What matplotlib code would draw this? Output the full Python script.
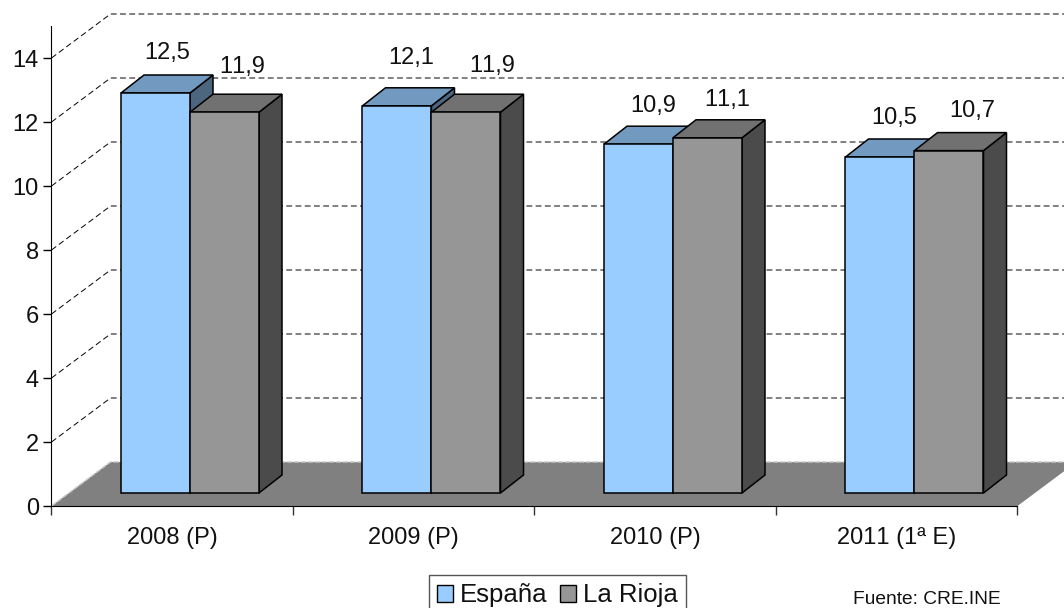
import matplotlib
matplotlib.use('Agg')
import matplotlib.pyplot as plt
from matplotlib.patches import Patch
from matplotlib.transforms import Affine2D

plt.rcParams['font.family'] = ['Liberation Sans', 'DejaVu Sans']
plt.rcParams['text.kerning_factor'] = 20

years = ['2008 (P)', '2009 (P)', '2010 (P)', '2011 (1ª E)']
espana = [12.5, 12.1, 10.9, 10.5]
rioja = [11.9, 11.9, 11.1, 10.7]
espana_labels = ['12,5', '12,1', '10,9', '10,5']
rioja_labels = ['11,9', '11,9', '11,1', '10,7']
y_ticks = [0, 2, 4, 6, 8, 10, 12, 14]

# one category is 241.5 px wide, one y unit is 32 px
PX_X = 1 / 241.5
PX_Y = 1 / 32
wall_dx, wall_dy = 59 * PX_X, 44 * PX_Y
bar_dx, bar_dy = 23 * PX_X, 18 * PX_Y
bar_w = 69 * PX_X
bar_x0 = 69.5 * PX_X
bar_base = 13 * PX_Y

fig = plt.figure(figsize=(10.64, 6.08), dpi=100)
ax = fig.add_axes([0, 0, 1, 1])
ax.set_xlim(-51.5 * PX_X, 1012.5 * PX_X)
ax.set_ylim(-102 * PX_Y, 506 * PX_Y)
ax.patch.set_alpha(0)

n = len(years)

# floor
ax.fill([0, n, n + wall_dx, wall_dx], [0, 0, wall_dy, wall_dy], color='#808080', lw=0, zorder=1)
ax.plot([0, wall_dx, n + wall_dx], [0, wall_dy, wall_dy], color='#c8c8c8', lw=1, ls=(0, (4, 1)), zorder=1.5)

# dashed walls
for v in y_ticks[1:]:
    ax.plot([0, wall_dx, n + wall_dx], [v, v + wall_dy, v + wall_dy],
            color='black', lw=0.7, ls=(0, (6, 3.5)), zorder=1.5)


def bar3d(x, v, front, top, side):
    y0 = bar_base
    y1 = bar_base + v
    ax.fill([x + bar_w, x + bar_w + bar_dx, x + bar_w + bar_dx, x + bar_w],
            [y0, y0 + bar_dy, y1 + bar_dy, y1], facecolor=side, edgecolor='black', lw=1.1, zorder=2)
    ax.fill([x, x + bar_dx, x + bar_w + bar_dx, x + bar_w],
            [y1, y1 + bar_dy, y1 + bar_dy, y1], facecolor=top, edgecolor='black', lw=1.1, zorder=2)
    ax.bar(x, v, width=bar_w, bottom=y0, align='edge', color=front, edgecolor='black', lw=1.1, zorder=2)


for i in range(n):
    bar3d(i + bar_x0, espana[i], '#99CCFF', '#7299BF', '#4D6680')
    bar3d(i + bar_x0 + bar_w, rioja[i], '#969696', '#717171', '#4B4B4B')

# value labels, offsets in px from front top left of each bar
esp_off = [(46, 40), (49, 48), (49, 38), (49, 39)]
rio_off = [(52, 45), (61, 46), (54, 38), (58, 40)]
for i in range(n):
    ax.annotate(espana_labels[i], (i + bar_x0, bar_base + espana[i]),
                xytext=(esp_off[i][0] * 0.72, esp_off[i][1] * 0.72), textcoords='offset points',
                ha='center', va='center', fontsize=17, color='#111111', zorder=3)
    ax.annotate(rioja_labels[i], (i + bar_x0 + bar_w, bar_base + rioja[i]),
                xytext=(rio_off[i][0] * 0.72, rio_off[i][1] * 0.72), textcoords='offset points',
                ha='center', va='center', fontsize=17, color='#111111', zorder=3)

# axes
for s in ['top', 'right']:
    ax.spines[s].set_visible(False)
ax.spines['left'].set_position(('data', 0))
ax.spines['bottom'].set_position(('data', 0))
ax.spines['left'].set_bounds(0, 15)
ax.spines['bottom'].set_bounds(0, n)
ax.spines['left'].set_zorder(4)
ax.spines['bottom'].set_zorder(4)
ax.set_yticks(y_ticks)
ax.set_xticks(range(n + 1))
ax.set_xticklabels([])
ax.set_xticks([i + 0.5 for i in range(n)], minor=True)
ax.set_xticklabels(years, minor=True)
ax.tick_params(axis='x', which='major', length=6.5, width=1, color='#333333')
ax.tick_params(axis='x', which='minor', length=0, pad=15, labelsize=17, labelcolor='#111111')
ax.tick_params(axis='y', length=6, width=1, pad=3, labelsize=17, labelcolor='#111111')
for lab in ax.get_yticklabels():
    lab.set_transform(lab.get_transform() + Affine2D().translate(0, -0.8))

handles = [Patch(facecolor='#99CCFF', edgecolor='black', label='España'),
           Patch(facecolor='#969696', edgecolor='black', label='La Rioja')]
fig.legend(handles=handles, loc='upper left', bbox_to_anchor=(429 / 1064, 1 - 575 / 608), ncols=2,
           fontsize=18.5, frameon=True, fancybox=False, edgecolor='#555555', framealpha=1,
           handlelength=0.62, handleheight=0.62, handletextpad=0.26, columnspacing=0.5,
           borderpad=0.33, borderaxespad=0, labelcolor='#111111')

fig.text(927 / 1064, 1 - 600 / 608, 'Fuente: CRE.INE', ha='center', va='center', fontsize=13.8, color='#111111')

fig.savefig('out.png', dpi=100)
